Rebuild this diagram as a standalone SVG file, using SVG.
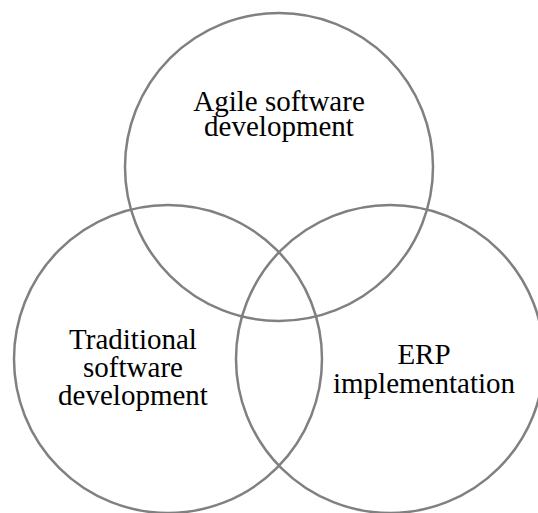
<svg xmlns="http://www.w3.org/2000/svg" width="538" height="513" viewBox="0 0 538 513">
  <style>
    .ring { fill: none; stroke: #808080; stroke-width: 2.5; }
    .label { font-family: "Liberation Serif", "Times New Roman", serif; font-size: 29px; fill: #000; text-anchor: middle; }
  </style>
  <rect width="538" height="513" fill="#fff"/>
  <g id="agile">
    <circle class="ring" cx="279" cy="167" r="154"/>
    <text class="label"><tspan x="279" y="111">Agile software</tspan><tspan x="279" y="136">development</tspan></text>
  </g>
  <g id="traditional">
    <circle class="ring" cx="168" cy="359" r="154"/>
    <text class="label"><tspan x="133" y="349">Traditional</tspan><tspan x="133" y="377">software</tspan><tspan x="133" y="405">development</tspan></text>
  </g>
  <g id="erp">
    <circle class="ring" cx="390" cy="359" r="154"/>
    <text class="label"><tspan x="424" y="364">ERP</tspan><tspan x="424" y="393">implementation</tspan></text>
  </g>
</svg>
